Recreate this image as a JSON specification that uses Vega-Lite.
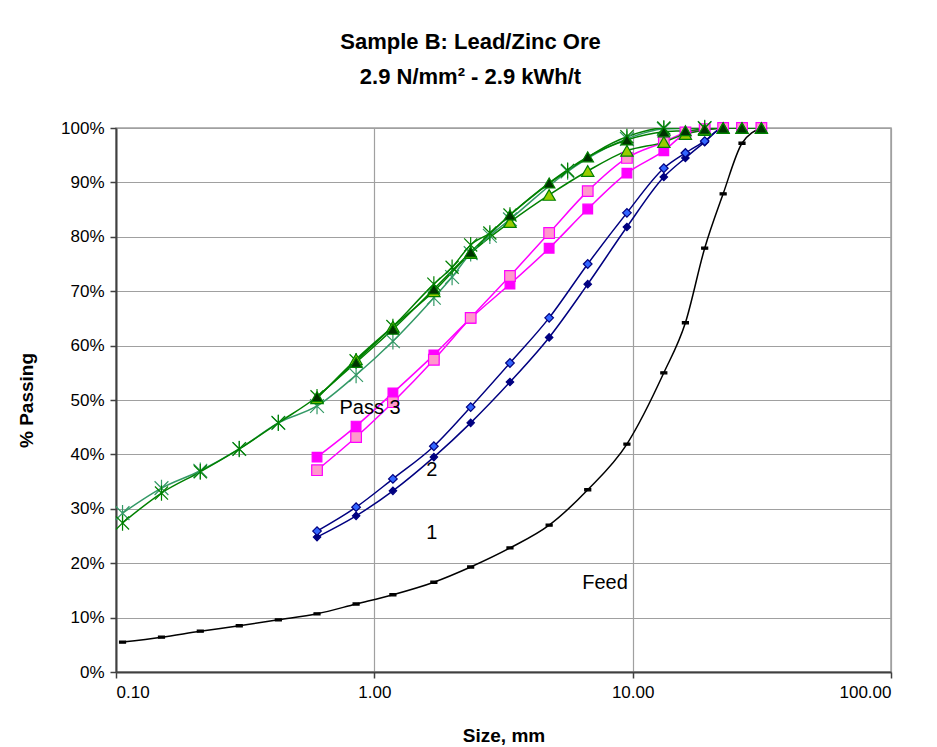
{
  "$schema": "https://vega.github.io/schema/vega-lite/v6.json",
  "width": 775,
  "height": 544,
  "autosize": {"type": "none"},
  "padding": {"left": 116, "top": 128, "right": 46, "bottom": 75},
  "config": {
    "font": "Liberation Sans",
    "view": {"stroke": "#a0a0a0", "strokeWidth": 1.5},
    "axis": {
      "labelFont": "Liberation Sans",
      "titleFont": "Liberation Sans",
      "labelFontSize": 17,
      "titleFontSize": 19,
      "labelColor": "#000000",
      "titleColor": "#000000",
      "domainColor": "#404040",
      "domainWidth": 2,
      "tickColor": "#404040",
      "tickWidth": 1.5,
      "tickSize": 6,
      "gridColor": "#a0a0a0",
      "gridWidth": 1.2,
      "gridOpacity": 1
    }
  },
  "title": {
    "text": ["Sample B: Lead/Zinc Ore", "2.9 N/mm² - 2.9 kWh/t"],
    "font": "Liberation Sans",
    "fontSize": 22,
    "fontWeight": "bold",
    "lineHeight": 35,
    "anchor": "middle",
    "dx": -33,
    "offset": 28,
    "color": "#000000"
  },
  "datasets": {
    "curves": [
      {"s": "Feed", "x": 0.106, "y": 5.5}, {"s": "Feed", "x": 0.15, "y": 6.4}, {"s": "Feed", "x": 0.212, "y": 7.5},
      {"s": "Feed", "x": 0.3, "y": 8.5}, {"s": "Feed", "x": 0.425, "y": 9.6}, {"s": "Feed", "x": 0.6, "y": 10.7},
      {"s": "Feed", "x": 0.85, "y": 12.5}, {"s": "Feed", "x": 1.18, "y": 14.2}, {"s": "Feed", "x": 1.7, "y": 16.5},
      {"s": "Feed", "x": 2.36, "y": 19.3}, {"s": "Feed", "x": 3.35, "y": 22.8}, {"s": "Feed", "x": 4.75, "y": 27.0},
      {"s": "Feed", "x": 6.7, "y": 33.5}, {"s": "Feed", "x": 9.5, "y": 41.9}, {"s": "Feed", "x": 13.2, "y": 55.0},
      {"s": "Feed", "x": 16, "y": 64.2}, {"s": "Feed", "x": 19, "y": 77.9}, {"s": "Feed", "x": 22.4, "y": 87.9},
      {"s": "Feed", "x": 26.5, "y": 97.2}, {"s": "Feed", "x": 31.5, "y": 100},

      {"s": "P1a", "x": 0.6, "y": 24.8}, {"s": "P1a", "x": 0.85, "y": 28.7}, {"s": "P1a", "x": 1.18, "y": 33.3},
      {"s": "P1a", "x": 1.7, "y": 39.5}, {"s": "P1a", "x": 2.36, "y": 45.8}, {"s": "P1a", "x": 3.35, "y": 53.3},
      {"s": "P1a", "x": 4.75, "y": 61.5}, {"s": "P1a", "x": 6.7, "y": 71.3}, {"s": "P1a", "x": 9.5, "y": 81.8},
      {"s": "P1a", "x": 13.2, "y": 91.0}, {"s": "P1a", "x": 16, "y": 94.5}, {"s": "P1a", "x": 19, "y": 97.4},
      {"s": "P1a", "x": 22.4, "y": 100}, {"s": "P1a", "x": 26.5, "y": 100}, {"s": "P1a", "x": 31.5, "y": 100},

      {"s": "P1b", "x": 0.6, "y": 25.9}, {"s": "P1b", "x": 0.85, "y": 30.3}, {"s": "P1b", "x": 1.18, "y": 35.5},
      {"s": "P1b", "x": 1.7, "y": 41.5}, {"s": "P1b", "x": 2.36, "y": 48.7}, {"s": "P1b", "x": 3.35, "y": 56.8},
      {"s": "P1b", "x": 4.75, "y": 65.1}, {"s": "P1b", "x": 6.7, "y": 75.0}, {"s": "P1b", "x": 9.5, "y": 84.4},
      {"s": "P1b", "x": 13.2, "y": 92.6}, {"s": "P1b", "x": 16, "y": 95.4}, {"s": "P1b", "x": 19, "y": 97.6},
      {"s": "P1b", "x": 22.4, "y": 100}, {"s": "P1b", "x": 26.5, "y": 100}, {"s": "P1b", "x": 31.5, "y": 100},

      {"s": "P2a", "x": 0.6, "y": 39.5}, {"s": "P2a", "x": 0.85, "y": 45.2}, {"s": "P2a", "x": 1.18, "y": 51.3},
      {"s": "P2a", "x": 1.7, "y": 58.3}, {"s": "P2a", "x": 2.36, "y": 65.0}, {"s": "P2a", "x": 3.35, "y": 71.3},
      {"s": "P2a", "x": 4.75, "y": 77.9}, {"s": "P2a", "x": 6.7, "y": 85.1}, {"s": "P2a", "x": 9.5, "y": 91.7},
      {"s": "P2a", "x": 13.2, "y": 95.8}, {"s": "P2a", "x": 16, "y": 98.9}, {"s": "P2a", "x": 19, "y": 99.6},
      {"s": "P2a", "x": 22.4, "y": 100}, {"s": "P2a", "x": 26.5, "y": 100}, {"s": "P2a", "x": 31.5, "y": 100},

      {"s": "P2b", "x": 0.6, "y": 37.1}, {"s": "P2b", "x": 0.85, "y": 43.2}, {"s": "P2b", "x": 1.18, "y": 49.6},
      {"s": "P2b", "x": 1.7, "y": 57.4}, {"s": "P2b", "x": 2.36, "y": 65.1}, {"s": "P2b", "x": 3.35, "y": 72.8},
      {"s": "P2b", "x": 4.75, "y": 80.7}, {"s": "P2b", "x": 6.7, "y": 88.4}, {"s": "P2b", "x": 9.5, "y": 94.5},
      {"s": "P2b", "x": 13.2, "y": 97.4}, {"s": "P2b", "x": 16, "y": 99.2}, {"s": "P2b", "x": 19, "y": 99.8},
      {"s": "P2b", "x": 22.4, "y": 100}, {"s": "P2b", "x": 26.5, "y": 100}, {"s": "P2b", "x": 31.5, "y": 100},

      {"s": "P3d", "x": 0.106, "y": 29.2}, {"s": "P3d", "x": 0.15, "y": 33.8}, {"s": "P3d", "x": 0.212, "y": 37.0},
      {"s": "P3d", "x": 0.3, "y": 41.0}, {"s": "P3d", "x": 0.425, "y": 45.8}, {"s": "P3d", "x": 0.6, "y": 48.9},
      {"s": "P3d", "x": 0.85, "y": 54.6}, {"s": "P3d", "x": 1.18, "y": 60.8}, {"s": "P3d", "x": 1.7, "y": 68.8},
      {"s": "P3d", "x": 2.0, "y": 72.6}, {"s": "P3d", "x": 2.36, "y": 77.0}, {"s": "P3d", "x": 2.8, "y": 80.2},
      {"s": "P3d", "x": 3.35, "y": 83.2}, {"s": "P3d", "x": 5.6, "y": 92.0}, {"s": "P3d", "x": 9.5, "y": 98.0},
      {"s": "P3d", "x": 13.2, "y": 99.8}, {"s": "P3d", "x": 19, "y": 100},

      {"s": "P3c", "x": 0.106, "y": 27.4}, {"s": "P3c", "x": 0.15, "y": 32.9}, {"s": "P3c", "x": 0.212, "y": 36.8},
      {"s": "P3c", "x": 0.3, "y": 41.0}, {"s": "P3c", "x": 0.425, "y": 45.8}, {"s": "P3c", "x": 0.6, "y": 50.6},
      {"s": "P3c", "x": 0.85, "y": 57.2}, {"s": "P3c", "x": 1.18, "y": 63.5}, {"s": "P3c", "x": 1.7, "y": 71.3},
      {"s": "P3c", "x": 2.0, "y": 74.4}, {"s": "P3c", "x": 2.36, "y": 78.5}, {"s": "P3c", "x": 2.8, "y": 80.7},
      {"s": "P3c", "x": 3.35, "y": 84.0}, {"s": "P3c", "x": 5.6, "y": 92.2}, {"s": "P3c", "x": 9.5, "y": 98.4},
      {"s": "P3c", "x": 13.2, "y": 100}, {"s": "P3c", "x": 19, "y": 100},

      {"s": "P3b", "x": 0.6, "y": 50.3}, {"s": "P3b", "x": 0.85, "y": 57.5}, {"s": "P3b", "x": 1.18, "y": 63.5},
      {"s": "P3b", "x": 1.7, "y": 70.0}, {"s": "P3b", "x": 2.36, "y": 77.0}, {"s": "P3b", "x": 3.35, "y": 82.7},
      {"s": "P3b", "x": 4.75, "y": 87.7}, {"s": "P3b", "x": 6.7, "y": 92.1}, {"s": "P3b", "x": 9.5, "y": 95.8},
      {"s": "P3b", "x": 13.2, "y": 97.4}, {"s": "P3b", "x": 16, "y": 98.9}, {"s": "P3b", "x": 19, "y": 99.6},
      {"s": "P3b", "x": 22.4, "y": 100}, {"s": "P3b", "x": 26.5, "y": 100}, {"s": "P3b", "x": 31.5, "y": 100},

      {"s": "P3a", "x": 0.6, "y": 50.6}, {"s": "P3a", "x": 0.85, "y": 56.9}, {"s": "P3a", "x": 1.18, "y": 63.0},
      {"s": "P3a", "x": 1.7, "y": 70.4}, {"s": "P3a", "x": 2.36, "y": 77.2}, {"s": "P3a", "x": 3.35, "y": 84.0},
      {"s": "P3a", "x": 4.75, "y": 89.9}, {"s": "P3a", "x": 6.7, "y": 94.7}, {"s": "P3a", "x": 9.5, "y": 97.8},
      {"s": "P3a", "x": 13.2, "y": 99.3}, {"s": "P3a", "x": 16, "y": 99.5}, {"s": "P3a", "x": 19, "y": 99.8},
      {"s": "P3a", "x": 22.4, "y": 100}, {"s": "P3a", "x": 26.5, "y": 100}, {"s": "P3a", "x": 31.5, "y": 100}
    ],
    "labels": [
      {"label": "Pass 3", "x": 0.963, "y": 48.5},
      {"label": "2", "x": 1.67, "y": 37.1},
      {"label": "1", "x": 1.67, "y": 25.5},
      {"label": "Feed", "x": 7.82, "y": 16.4}
    ]
  },
  "layer": [
    {
      "data": {"name": "curves"},
      "mark": {"type": "line", "strokeWidth": 1.5, "interpolate": "monotone", "clip": true},
      "encoding": {
        "x": {"field": "x", "type": "quantitative",
          "scale": {"type": "log", "domain": [0.1, 100]},
          "axis": {"values": [0.1, 1, 10, 100], "format": ".2f", "title": "Size, mm", "titlePadding": 26, "labelPadding": 6}},
        "y": {"field": "y", "type": "quantitative",
          "scale": {"domain": [0, 100], "nice": false},
          "axis": {"values": [0,10,20,30,40,50,60,70,80,90,100], "labelExpr": "datum.value + '%'", "title": "% Passing", "titlePadding": 24, "labelPadding": 6}},
        "stroke": {"field": "s", "type": "nominal", "legend": null,
          "scale": {"domain": ["Feed","P1a","P1b","P2a","P2b","P3a","P3b","P3c","P3d"],
                    "range": ["#000000","#000080","#000080","#FF00FF","#FF00FF","#008000","#008000","#008000","#339966"]}},
        "detail": {"field": "s"}
      }
    },
    {
      "data": {"name": "curves"},
      "mark": {"type": "point", "filled": true, "strokeWidth": 1.2, "opacity": 1},
      "encoding": {
        "x": {"field": "x", "type": "quantitative"},
        "y": {"field": "y", "type": "quantitative"},
        "stroke": {"field": "s", "type": "nominal", "legend": null},
        "fill": {"field": "s", "type": "nominal", "legend": null,
          "scale": {"domain": ["Feed","P1a","P1b","P2a","P2b","P3a","P3b","P3c","P3d"],
                    "range": ["#000000","#000080","#3366FF","#FF00FF","#FF99CC","#003300","#99CC00","transparent","transparent"]}},
        "shape": {"field": "s", "type": "nominal", "legend": null,
          "scale": {"domain": ["Feed","P1a","P1b","P2a","P2b","P3a","P3b","P3c","P3d"],
                    "range": ["M-1,-0.35H1V0.35H-1Z","diamond","diamond","square","square","triangle-up","triangle-up","M-1,-1L1,1M-1,1L1,-1M0,-1.2V1.2","M-1,-1L1,1M-1,1L1,-1M0,-1.2V1.2"]}},
        "size": {"field": "s", "type": "nominal", "legend": null,
          "scale": {"domain": ["Feed","P1a","P1b","P2a","P2b","P3a","P3b","P3c","P3d"],
                    "range": [36, 190, 190, 85, 85, 120, 120, 85, 85]}}
      }
    },
    {
      "data": {"name": "labels"},
      "mark": {"type": "text", "font": "Liberation Sans", "fontSize": 20, "color": "#000000", "align": "center", "baseline": "middle"},
      "encoding": {
        "x": {"field": "x", "type": "quantitative"},
        "y": {"field": "y", "type": "quantitative"},
        "text": {"field": "label"}
      }
    }
  ]
}
